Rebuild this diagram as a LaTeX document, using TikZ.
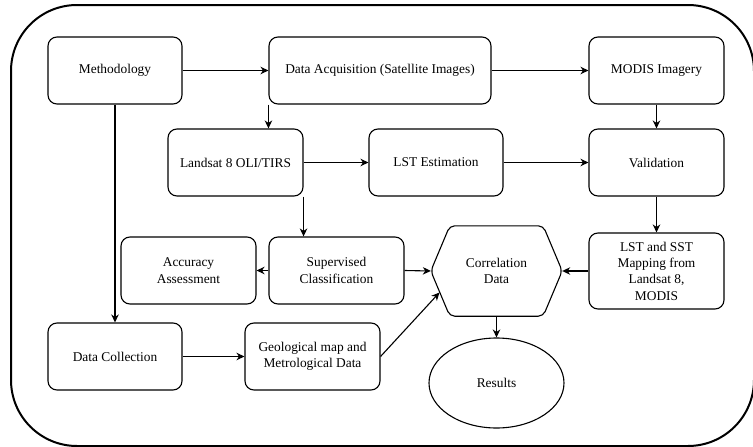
\documentclass[tikz,border=0pt]{standalone}
\usepackage{fontspec}
\setmainfont{Liberation Serif}
\usetikzlibrary{arrows.meta,shapes.geometric,calc}
\begin{document}
\begin{tikzpicture}[x=1pt,y=-1pt,
  font=\rmfamily\fontsize{13.4}{16.3}\selectfont,
  box/.style={draw, rounded corners=9pt, line width=1.1pt, minimum width=135pt, minimum height=67pt, align=center, inner sep=0pt},
  arr/.style={-{Stealth[length=8pt,width=7.5pt,inset=2.5pt]}, line width=1.1pt}]
\useasboundingbox (0,0) rectangle (753,447);
\draw[line width=2pt] (11,71) -- (11,380) arc[start angle=180, end angle=90, radius=66] -- (688,446) arc[start angle=90, end angle=0, radius=66] -- (754,71) arc[start angle=0, end angle=-90, radius=66] -- (77,5) arc[start angle=-90, end angle=-180, radius=66] -- cycle;
\node[box, minimum width=134pt] (meth) at (115,70.5) {Methodology};
\node[box, minimum width=222pt] (acq) at (380,70.5) {Data Acquisition (Satellite Images)};
\node[box] (modis) at (656.5,70.5) {MODIS Imagery};
\node[box] (land) at (235.5,162.5) {Landsat 8 OLI/TIRS};
\node[box, minimum width=134pt] (lst) at (436,162.5) {LST Estimation};
\node[box] (valid) at (656.5,162.5) {Validation};
\node[box] (acc) at (188.5,270.5) {Accuracy\\Assessment};
\node[box] (sup) at (336.5,270.5) {Supervised\\Classification};
\node[box, minimum height=76pt] (lstsst) at (656.5,271) {LST and SST\\Mapping from\\Landsat 8,\\MODIS};
\node[box, minimum width=134pt] (dcoll) at (115,356.5) {Data Collection};
\node[box] (geo) at (312.5,356.5) {Geological map and\\Metrological Data};
\node[minimum width=131pt, minimum height=90pt, inner sep=0pt, align=center] (corr) at (496.5,271) {Correlation\\Data};
\draw[line width=1.1pt, rounded corners=5pt] (corr.west) -- ([xshift=19pt]corr.north west) -- ([xshift=-19pt]corr.north east) -- (corr.east) -- ([xshift=-19pt]corr.south east) -- ([xshift=19pt]corr.south west) -- cycle;
\node[draw, ellipse, line width=1.1pt, minimum width=135pt, minimum height=90pt, inner sep=0pt] (res) at (496.5,383) {Results};
\coordinate (corrL) at (439.5,292.5);
\draw[arr] (meth.east) -- (acq.west);
\draw[arr] (acq.east) -- (modis.west);
\draw[arr] (acq.south west) -- (acq.south west |- land.north);
\draw[arr] (meth.south) -- (dcoll.north);
\draw[arr] (land.east) -- (lst.west);
\draw[arr] (lst.east) -- (valid.west);
\draw[arr] (modis.south) -- (valid.north);
\draw[arr] (valid.south) -- (lstsst.north);
\draw[arr] (land.south east) -- (land.south east |- sup.north);
\draw[arr] (sup.west) -- (acc.east);
\draw[arr] (sup.east) -- (corr.west);
\draw[arr] (lstsst.west) -- (corr.east);
\draw[arr] (dcoll.east) -- (geo.west);
\draw[arr] (geo.east) -- (corrL);
\draw[arr] (corr.south) -- (res.north);
\end{tikzpicture}
\end{document}
